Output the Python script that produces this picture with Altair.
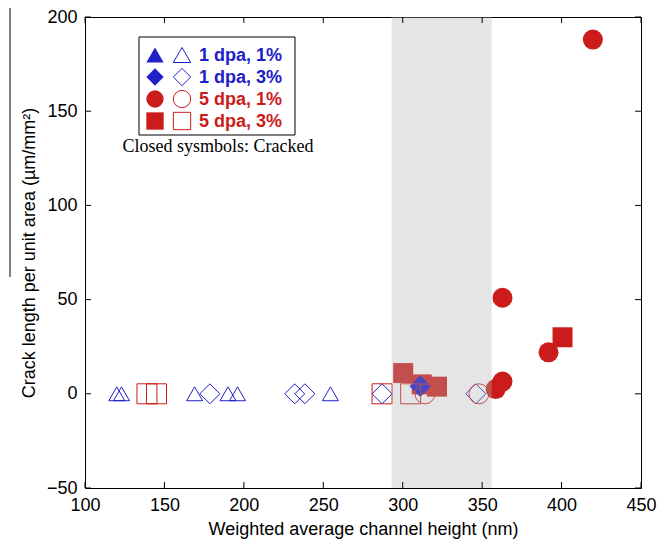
import altair as alt
import pandas as pd

# ---------------- data ----------------
# open symbols (not cracked) all sit at y = 0
tri_open_x = [120, 123, 169, 190, 196, 254.5]
tri_open_y = [0, 0, 0, 0, 0, 0]
dia_open_x = [178.6, 232, 238.4, 287, 346]
dia_open_y = [0, 0, 0, 0, 0]
cir_open_x = [314, 348]
cir_open_y = [0, 0]
sq_open_x = [139, 145, 287, 305]
sq_open_y = [0, 0, 0, 0]

# closed symbols (cracked)
dia_fill_x = [311]
dia_fill_y = [4]
cir_fill_x = [419.7, 362.8, 391.8, 362.8, 358.5]
cir_fill_y = [188, 51, 22, 6.5, 2.5]
sq_fill_x = [400.6, 300.3, 312, 321.6]
sq_fill_y = [30, 11, 5, 3.8]

band = [293, 356]

x_ticks = [100, 150, 200, 250, 300, 350, 400, 450]
y_ticks = [-50, 0, 50, 100, 150, 200]

legend_labels = ["1 dpa, 1%", "1 dpa, 3%", "5 dpa, 1%", "5 dpa, 3%"]
legend_shapes = ["triangle-up", "diamond", "circle", "square"]
legend_note = "Closed sysmbols: Cracked"

# ---------------- style ----------------
BLUE = "#2020c8"
RED = "#cc1b1b"
W, H = 556, 471
FONT = "Liberation Sans"

xscale = alt.Scale(domain=[100, 450], nice=False, zero=False)
yscale = alt.Scale(domain=[-50, 200], nice=False, zero=False)
xaxis = alt.Axis(values=x_ticks, title="Weighted average channel height (nm)",
                 grid=False, ticks=False, domain=False, labelPadding=8,
                 titlePadding=6, labelFontSize=18, titleFontSize=18,
                 labelFont=FONT, titleFont=FONT, titleFontWeight="normal",
                 labelColor="black", titleColor="black", labelFlush=False)
yaxis = alt.Axis(values=y_ticks, title="Crack length per unit area (µm/mm²)",
                 grid=False, ticks=False, domain=False, labelPadding=8,
                 titlePadding=8, labelFontSize=18, titleFontSize=18,
                 labelFont=FONT, titleFont=FONT, titleFontWeight="normal",
                 labelColor="black", titleColor="black", labelFlush=False)


def X():
    return alt.X("x:Q", scale=xscale, axis=xaxis)


def Y():
    return alt.Y("y:Q", scale=yscale, axis=yaxis)


def pts(xs, ys, shape, color, filled, size):
    df = pd.DataFrame({"x": xs, "y": ys})
    if filled:
        m = alt.Chart(df).mark_point(shape=shape, filled=True, color=color,
                                      opacity=1, size=size, strokeWidth=0)
    else:
        m = alt.Chart(df).mark_point(shape=shape, filled=False, color=color,
                                      opacity=1, size=size, strokeWidth=1)
    return m.encode(x=X(), y=Y())


layers = []
layers.append(pts(sq_fill_x, sq_fill_y, "square", RED, True, 400))
layers.append(pts(cir_fill_x, cir_fill_y, "circle", RED, True, 400))
layers.append(pts(dia_fill_x, dia_fill_y, "diamond", "#1010cc", True, 460))
layers.append(pts(tri_open_x, tri_open_y, "triangle-up", BLUE, False, 256))
layers.append(pts(dia_open_x, dia_open_y, "diamond", BLUE, False, 400))
layers.append(pts(cir_open_x, cir_open_y, "circle", RED, False, 400))
layers.append(pts(sq_open_x, sq_open_y, "square", RED, False, 400))

# shaded band (drawn over markers, semi transparent)
band_df = pd.DataFrame({"x": [band[0]], "x2": [band[1]]})
layers.append(alt.Chart(band_df).mark_rect(color="#b4b4b4", opacity=0.34).encode(
    x=X(), x2="x2:Q", y=alt.value(0), y2=alt.value(H)))

# inward ticks on all four sides
xt = pd.DataFrame({"x": x_ticks})
yt = pd.DataFrame({"y": y_ticks})
layers.append(alt.Chart(xt).mark_rule(color="black").encode(
    x=X(), y=alt.value(H), y2=alt.value(H - 6)))
layers.append(alt.Chart(xt).mark_rule(color="black").encode(
    x=X(), y=alt.value(0), y2=alt.value(6)))
layers.append(alt.Chart(yt).mark_rule(color="black").encode(
    y=Y(), x=alt.value(0), x2=alt.value(6)))
layers.append(alt.Chart(yt).mark_rule(color="black").encode(
    y=Y(), x=alt.value(W), x2=alt.value(W - 6)))

# legend box
one = pd.DataFrame({"a": [0]})
LX0, LX1, LY0, LY1 = 54, 210, 20, 118
layers.append(alt.Chart(one).mark_rect(fill="white", stroke="black", strokeWidth=1).encode(
    x=alt.value(LX0), x2=alt.value(LX1), y=alt.value(LY0), y2=alt.value(LY1)))
for i, (lab, shp) in enumerate(zip(legend_labels, legend_shapes)):
    col = BLUE if i < 2 else RED
    ry = 38 + i * 22
    d = pd.DataFrame({"label": [lab]})
    layers.append(alt.Chart(d).mark_point(shape=shp, filled=True, color=col, opacity=1,
                                          size=300, strokeWidth=0).encode(
        x=alt.value(70), y=alt.value(ry)))
    layers.append(alt.Chart(d).mark_point(shape=shp, filled=False, color=col, opacity=1,
                                          size=300, strokeWidth=1).encode(
        x=alt.value(97), y=alt.value(ry)))
    layers.append(alt.Chart(d).mark_text(align="left", baseline="middle", font=FONT,
                                         fontSize=18, fontWeight="bold", color=col).encode(
        x=alt.value(114), y=alt.value(ry + 1), text="label:N"))

note = pd.DataFrame({"t": [legend_note]})
layers.append(alt.Chart(note).mark_text(align="center", baseline="middle",
                                        font="Liberation Serif", fontSize=18,
                                        color="black").encode(
    x=alt.value(133), y=alt.value(130), text="t:N"))

# stray vertical line at the far left of the reference figure
layers.append(alt.Chart(one).mark_rule(color="black", strokeWidth=1).encode(
    x=alt.value(-75), y=alt.value(-9), y2=alt.value(260)))

chart = alt.layer(*layers).properties(
    width=W, height=H,
    autosize=alt.AutoSizeParams(type="none"),
    padding={"left": 85, "top": 17, "right": 28, "bottom": 62},
    background="white",
).configure_view(stroke="black", strokeWidth=1)

chart.save("out.html", embed_options={"renderer": "svg", "actions": False})
